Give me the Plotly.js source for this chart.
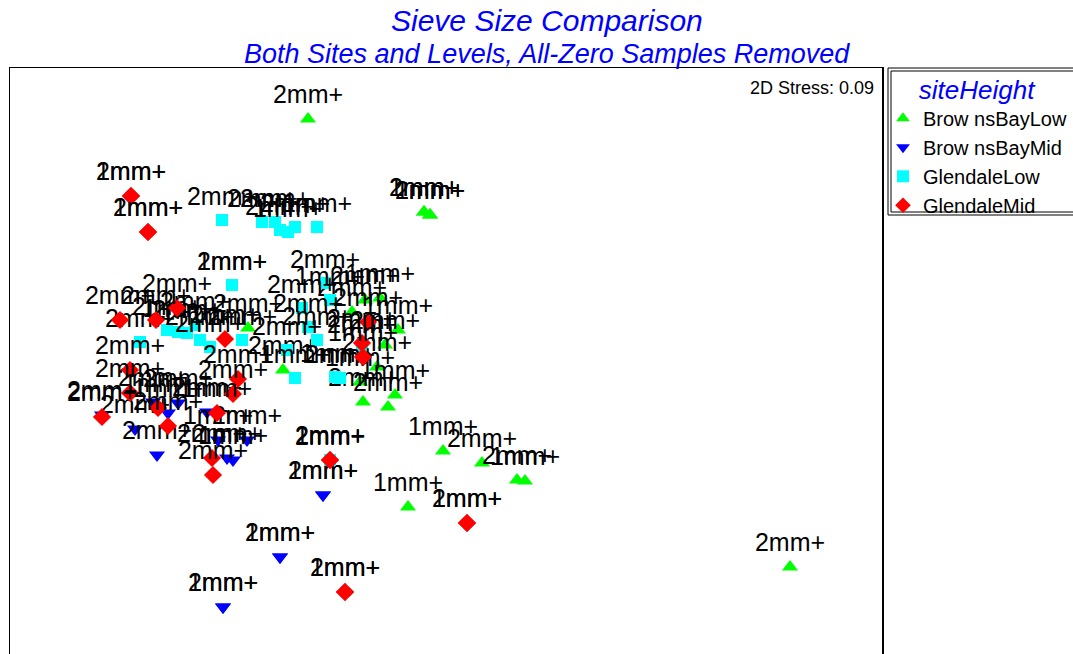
<!DOCTYPE html>
<html>
<head>
<meta charset="utf-8">
<script src="https://cdn.plot.ly/plotly-3.0.1.min.js"></script>
<style>
html,body{margin:0;padding:0;overflow:hidden;background:#fff;}
#chart{width:1073px;height:680px;}
</style>
</head>
<body>
<div id="chart"></div>
<script>
// NMDS coordinates (arbitrary units), one sample per entry
const groups = ["Brow nsBayLow", "Brow nsBayMid", "GlendaleLow", "GlendaleMid"];

const bblX = [-0.92, 0.24, 0.30, 0.24, 0.30, 3.90, 0.43, 0.82, 1.17, 1.25, 0.08, -0.37, -0.12, -0.05, -0.40, -1.17, -0.23, -0.15, -0.02, -0.35, -0.20, -0.48, -1.52];
const bblY = [2.81, 1.88, 1.85, 1.88, 1.85, -1.67, -0.51, -0.63, -0.80, -0.81, -1.07, -0.02, -0.07, 0.05, 0.18, 0.30, 0.33, 0.55, 0.70, 1.00, 1.02, 0.88, 0.72];
const bblLab = ["2mm+", "2mm+", "2mm+", "1mm+", "1mm+", "2mm+", "1mm+", "2mm+", "2mm+", "1mm+", "1mm+", "2mm+", "2mm+", "1mm+", "1mm+", "2mm+", "2mm+", "2mm+", "1mm+", "2mm+", "1mm+", "2mm+", "2mm+"];

const bbmX = [-2.98, -2.65, -2.47, -2.32, -2.22, -2.43, -1.93, -1.82, -1.73, -1.67, -1.53, -0.77, -1.20, -1.77, -0.77, -1.20, -1.77];
const bbmY = [-0.15, -0.29, -0.02, -0.13, -0.03, -0.55, -0.12, -0.40, -0.58, -0.60, -0.40, -0.95, -1.57, -2.07, -0.95, -1.57, -2.07];
const bbmLab = ["2mm+", "2mm+", "2mm+", "1mm+", "2mm+", "2mm+", "2mm+", "1mm+", "2mm+", "1mm+", "2mm+", "2mm+", "2mm+", "2mm+", "1mm+", "1mm+", "1mm+"];

const glX = [-1.78, -1.38, -1.25, -1.20, -1.12, -1.05, -0.83, -1.68, -1.68, -0.75, -0.70, -0.98, -0.92, -0.83, -1.13, -1.05, -0.65, -0.60, -0.38, -2.60, -2.33, -2.22, -2.13, -2.00, -1.90, -2.05, -0.70, -1.58];
const glY = [1.80, 1.78, 1.78, 1.70, 1.68, 1.73, 1.73, 1.15, 1.15, 1.17, 1.00, 0.92, 0.73, 0.60, 0.50, 0.22, 0.23, 0.22, 0.52, 0.58, 0.70, 0.68, 0.67, 0.60, 0.53, 0.75, -0.60, 0.60];
const glLab = ["2mm+", "2mm+", "2mm+", "2mm+", "1mm+", "2mm+", "1mm+", "2mm+", "1mm+", "2mm+", "1mm+", "2mm+", "2mm+", "2mm+", "2mm+", "1mm+", "1mm+", "2mm+", "2mm+", "2mm+", "2mm+", "1mm+", "2mm+", "2mm+", "2mm+", "2mm+", "2mm+", "2mm+"];

const gmX = [-2.69, -2.52, -2.80, -2.44, -2.23, -1.75, -1.62, -2.70, -2.70, -1.67, -2.98, -2.42, -2.32, -1.83, -1.88, -1.87, -0.32, -0.38, -0.37, -0.70, -0.55, 0.67, -2.69, -2.52, -0.55, 0.67, -0.70];
const gmY = [2.04, 1.68, 0.80, 0.80, 0.92, 0.61, 0.21, 0.30, 0.07, 0.06, -0.17, -0.08, -0.26, -0.13, -0.58, -0.75, 0.78, 0.57, 0.43, -0.60, -1.92, -1.23, 2.04, 1.68, -1.92, -1.23, -0.60];
const gmLab = ["2mm+", "2mm+", "2mm+", "2mm+", "2mm+", "2mm+", "2mm+", "2mm+", "2mm+", "2mm+", "2mm+", "1mm+", "2mm+", "1mm+", "2mm+", "2mm+", "2mm+", "2mm+", "1mm+", "2mm+", "2mm+", "2mm+", "1mm+", "1mm+", "1mm+", "1mm+", "1mm+"];

const stressText = "2D Stress: 0.09";

const labelFont = {family: "Liberation Sans, Arial, sans-serif", size: 25, color: "#000"};

function tr(name, x, y, lab, symbol, color, size) {
  return {
    type: "scatter", mode: "markers+text", name: name,
    x: x, y: y, text: lab, textposition: "top center",
    textfont: labelFont, cliponaxis: false,
    marker: {symbol: symbol, color: color, size: size, line: {width: 0}},
    hoverinfo: "skip"
  };
}

const data = [
  tr(groups[0], bblX, bblY, bblLab, "triangle-up", "#00ff00", 14),
  tr(groups[1], bbmX, bbmY, bbmLab, "triangle-down", "#0000ff", 14),
  tr(groups[2], glX, glY, glLab, "square", "#00ffff", 12),
  tr(groups[3], gmX, gmY, gmLab, "diamond", "#ff0000", 14)
];

const W = 872, H = 612;
function px(xp) { return (xp - 10) / W; }
function py(yp) { return (680 - yp) / H; }

const layout = {
  width: 1073, height: 680,
  margin: {l: 10, r: 191, t: 68, b: 0},
  paper_bgcolor: "#fff", plot_bgcolor: "#fff",
  showlegend: true,
  xaxis: {range: [-3.9, 4.82], showgrid: false, zeroline: false, showticklabels: false, ticks: "",
          showline: true, mirror: true, linecolor: "#000", linewidth: 1.5, fixedrange: true},
  yaxis: {range: [-2.8, 3.32], showgrid: false, zeroline: false, showticklabels: false, ticks: "",
          showline: true, mirror: true, linecolor: "#000", linewidth: 1.5, fixedrange: true},
  legend: {
    x: px(883), y: py(65), xanchor: "left", yanchor: "top",
    bgcolor: "rgba(0,0,0,0)", borderwidth: 0,
    font: {family: "Liberation Sans, Arial, sans-serif", size: 20, color: "#000"},
    title: {text: "siteHeight", side: "top center",
            font: {family: "Liberation Sans, Arial, sans-serif", size: 26, color: "#0000ff", style: "italic"}},
    itemsizing: "constant"
  },
  shapes: [
    {type: "rect", xref: "paper", yref: "paper", x0: px(888), x1: px(1080), y0: py(215), y1: py(68),
     line: {color: "#000", width: 1}},
    {type: "rect", xref: "paper", yref: "paper", x0: px(891), x1: px(1080), y0: py(212), y1: py(71),
     line: {color: "#000", width: 1}}
  ],
  annotations: [
    {text: "Sieve Size Comparison", xref: "paper", yref: "paper", x: px(547), y: py(20),
     xanchor: "center", yanchor: "middle", showarrow: false,
     font: {family: "Liberation Sans, Arial, sans-serif", size: 30, color: "#0000ff", style: "italic"}},
    {text: "Both Sites and Levels, All-Zero Samples Removed", xref: "paper", yref: "paper", x: px(547), y: py(54),
     xanchor: "center", yanchor: "middle", showarrow: false,
     font: {family: "Liberation Sans, Arial, sans-serif", size: 27, color: "#0000ff", style: "italic"}},
    {text: stressText, xref: "paper", yref: "paper", x: px(876), y: py(88),
     xanchor: "right", yanchor: "middle", showarrow: false,
     font: {family: "Liberation Sans, Arial, sans-serif", size: 18, color: "#000"}}
  ]
};

Plotly.newPlot("chart", data, layout, {displayModeBar: false, staticPlot: true});
</script>
</body>
</html>
